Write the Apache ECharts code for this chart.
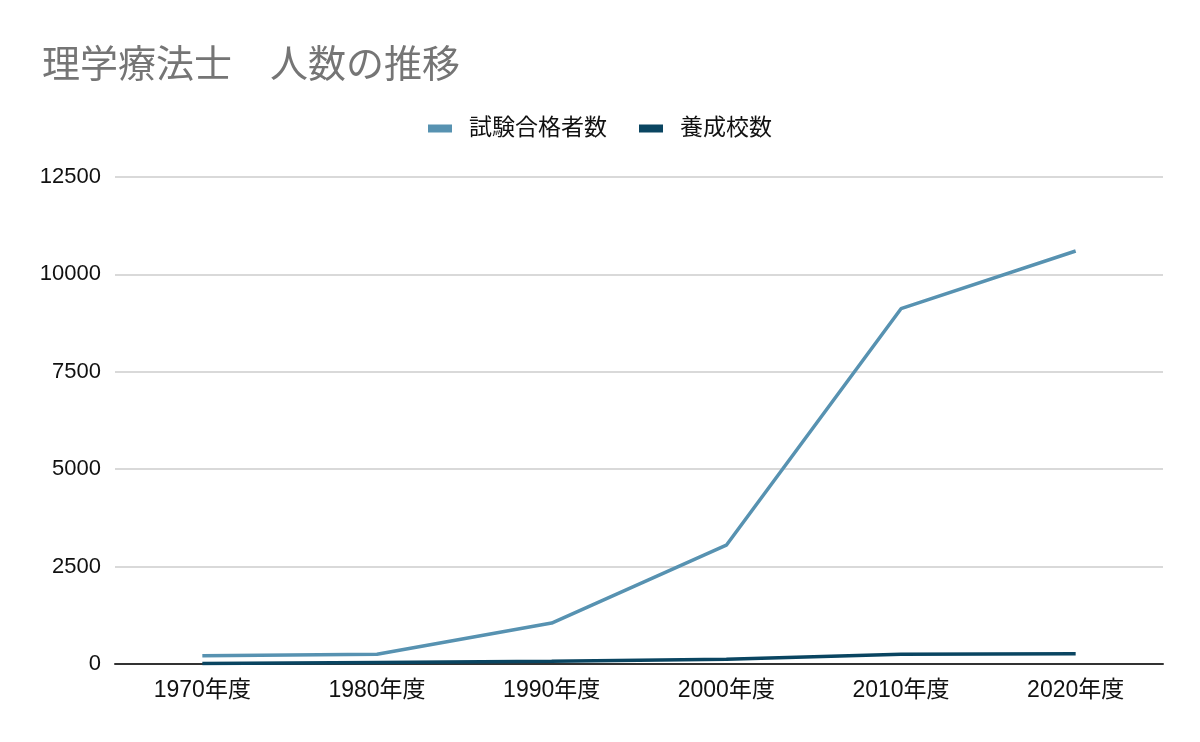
<!DOCTYPE html>
<html>
<head>
<meta charset="utf-8">
<script src="https://cdn.jsdelivr.net/npm/echarts@6/dist/echarts.min.js"></script>
<style>
html,body{margin:0;padding:0;background:#fff;}
#chart{width:1200px;height:742px;}
</style>
</head>
<body>
<div id="chart"></div>
<script>
const categories = ['1970年度','1980年度','1990年度','2000年度','2010年度','2020年度'];
const passers = [210, 250, 1050, 3050, 9120, 10600];
const schools = [15, 40, 70, 120, 250, 265];
const seriesNames = ['試験合格者数','養成校数'];
const titleText = '理学療法士　人数の推移';

const font = '"Liberation Sans", Arial, "Noto Sans CJK JP", sans-serif';
const chart = echarts.init(document.getElementById('chart'));
chart.setOption({
  backgroundColor: '#fff',
  animation: false,
  title: {
    text: titleText,
    left: 37,
    top: 39,
    textStyle: { color: '#757575', fontSize: 38, fontWeight: 'normal', fontFamily: '"Noto Sans CJK JP", sans-serif' }
  },
  legend: {
    top: 112,
    left: 'center',
    itemWidth: 24,
    itemHeight: 8,
    itemGap: 32,
    icon: 'rect',
    textStyle: { color: '#111', fontSize: 23, fontFamily: font, padding: [0, 0, 0, 12] },
    data: seriesNames
  },
  grid: { left: 115, right: 37, top: 177, bottom: 78 },
  xAxis: {
    type: 'category',
    data: categories,
    boundaryGap: true,
    axisTick: { show: false },
    axisLine: { lineStyle: { color: '#333', width: 2 } },
    axisLabel: { color: '#111', fontSize: 23, fontFamily: font, margin: 15 }
  },
  yAxis: {
    type: 'value',
    min: 0,
    max: 12500,
    interval: 2500,
    axisLine: { show: false },
    axisTick: { show: false },
    splitLine: { lineStyle: { color: '#cccccc', width: 1.5 } },
    axisLabel: { color: '#111', fontSize: 22, fontFamily: font, margin: 14, formatter: v => String(v) }
  },
  series: [
    {
      name: seriesNames[0], type: 'line', data: passers,
      symbol: 'none', lineStyle: { color: '#5792b1', width: 3.5 }, itemStyle: { color: '#5792b1' }
    },
    {
      name: seriesNames[1], type: 'line', data: schools,
      symbol: 'none', lineStyle: { color: '#0a4561', width: 3.5 }, itemStyle: { color: '#0a4561' }
    }
  ]
});
</script>
</body>
</html>
